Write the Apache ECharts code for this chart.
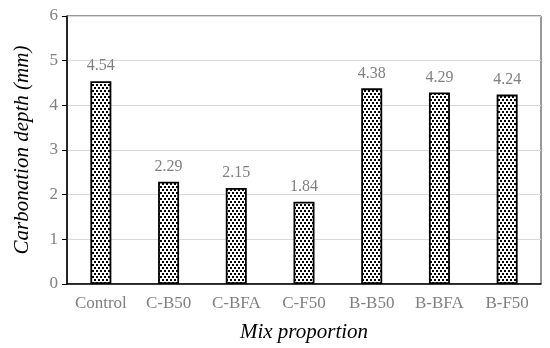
<!DOCTYPE html>
<html><head><meta charset="utf-8">
<script src="https://cdn.jsdelivr.net/npm/echarts@6/dist/echarts.min.js"></script>
<style>html,body{margin:0;padding:0;background:#fff}#c{width:550px;height:348px}</style>
</head><body><div id="c"></div>
<script>
const categories = ['Control','C-B50','C-BFA','C-F50','B-B50','B-BFA','B-F50'];
const depthValues = [4.54, 2.29, 2.15, 1.84, 4.38, 4.29, 4.24];
const yTicks = [0,1,2,3,4,5,6];

const pat = document.createElement('canvas');
pat.width = 8; pat.height = 6;
const g = pat.getContext('2d');
g.fillStyle = '#fff'; g.fillRect(0,0,8,6);
g.fillStyle = '#000';
[[0,0],[4,0],[2,3],[6,3]].forEach(p => g.fillRect(p[0],p[1],2,2));

const chart = echarts.init(document.getElementById('c'));
const font = '"Liberation Serif","Times New Roman",serif';
chart.setOption({
  animation:false,
  grid:{left:67,right:9,top:16,bottom:64,show:true,borderColor:'#333',borderWidth:1,backgroundColor:'transparent'},
  xAxis:{type:'category',data:categories,
    name:'Mix proportion',nameLocation:'middle',nameGap:38,
    nameTextStyle:{fontFamily:font,fontStyle:'italic',fontSize:21,color:'#000'},
    axisLine:{lineStyle:{color:'#000',width:1.5}},axisTick:{show:false},
    axisLabel:{fontFamily:font,fontSize:17,color:'#808080',margin:11}},
  yAxis:{type:'value',min:0,max:6,interval:1,
    name:'Carbonation depth (mm)',nameLocation:'middle',nameGap:34,
    nameTextStyle:{fontFamily:font,fontStyle:'italic',fontSize:21,color:'#000'},
    axisLine:{show:true,lineStyle:{color:'#000',width:1.5}},
    axisTick:{show:true,length:5,lineStyle:{color:'#000'}},
    splitLine:{lineStyle:{color:'#d9d9d9',width:1}},
    axisLabel:{fontFamily:font,fontSize:17,color:'#808080',margin:9,
      formatter:v=>yTicks.includes(v)?String(v):''}},
  series:[{type:'bar',data:depthValues,barWidth:21,
    itemStyle:{color:{image:pat,repeat:'repeat'},borderColor:'#000',borderWidth:1.8},
    label:{show:true,position:'top',distance:7,fontFamily:font,fontSize:16,color:'#808080',
      formatter:p=>p.value.toFixed(2)}}]
});
</script></body></html>
